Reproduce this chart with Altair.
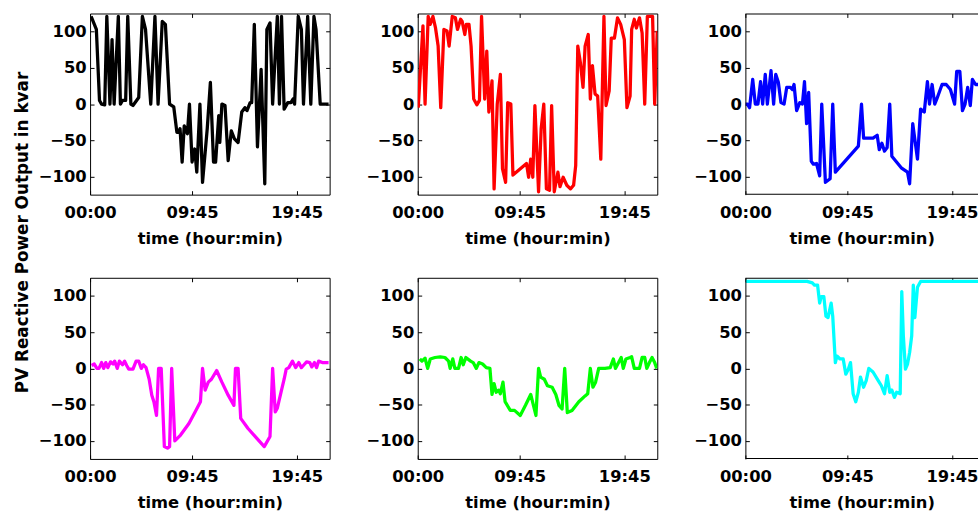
import altair as alt
import pandas as pd

# ---------------- data (hours of day, kvar) ----------------
black_t = [0.1, 0.6, 0.9, 1.1, 1.4, 1.6, 1.9, 2.1, 2.3, 2.7, 2.9, 3.1, 3.4, 3.6, 3.9, 4.1, 4.65, 5.0, 5.3, 5.8,
           6.2, 6.5, 6.9, 7.2, 7.6, 8.0, 8.3, 8.45, 8.6, 8.8, 9.0, 9.3, 9.5, 9.75, 10.0, 10.2, 10.5, 10.75, 11.2, 11.5,
           11.8, 12.0, 12.3, 12.4, 12.6, 12.9, 13.2, 13.5, 13.8, 14.15, 14.5, 14.8, 15.0, 15.3, 15.45, 15.7, 16.0,
           16.35, 16.7, 16.9, 17.2, 17.45, 17.9, 18.1, 18.3, 18.55, 18.9, 19.2, 19.4, 19.55, 19.9, 20.2, 20.4, 20.8,
           21.1, 21.4, 21.6, 22.0, 22.8]
black_v = [121, 103, 5, 0, -1, 121, 0, 89, 0, 121, 0, 5, 5, 121, 0, -2, 9, 121, 103, 0,
           121, 0, 114, 110, 0, -4, -39, -39, -34, -80, -30, -41, 0, -80, -62, -94, 0, -108, -34, 30,
           -80, -80, -16, -53, 0, -2, -78, -37, -48, -53, -11, -5, -9, 2, 2, 110, -59,
           48, -110, 103, 112, 0, 121, 0, 121, -7, 2, 2, 7, 0, 121, 103, 0, 121,
           0, 121, 103, 0, 0]

red_t = [0.05, 0.5, 0.7, 1.0, 1.2, 1.45, 1.7, 1.95, 2.2, 2.5, 2.8, 3.0, 3.3, 3.6, 3.8, 4.1, 4.25, 4.5, 4.65, 4.9,
         5.1, 5.35, 5.65, 5.9, 6.1, 6.4, 6.6, 6.8, 7.1, 7.3, 7.6, 7.9, 8.1, 8.4, 8.6, 8.9, 9.1, 10.4, 10.6, 10.8,
         11.0, 11.2, 11.55, 11.8, 12.05, 12.3, 12.6, 12.8, 13.05, 13.4, 13.6, 13.9, 14.25, 14.6, 14.9, 15.1, 15.3,
         15.55, 15.8, 16.0, 16.3, 16.5, 16.7, 16.95, 17.2, 17.5, 17.8, 18.0, 18.3, 18.5, 18.8, 19.1, 19.4, 19.75,
         20.0, 20.3, 20.45, 20.7, 20.9, 21.2, 21.45, 21.7, 21.95, 22.3, 22.45, 22.65, 22.9]
red_v = [-5, 108, 0, 121, 110, 121, 105, 80, -5, 103, 101, 80, 121, 119, 103, 117, 114, 96, 110, 110,
         80, 7, -1, 5, 121, 7, 73, -11, 32, -117, 0, 41, -89, -108, 2, 0, -98, -82, -101, -76,
         -101, -2, -121, -34, 0, -117, -119, -2, -121, -94, -114, -101, -112, -117, -112, -85, 80,
         57, 23, 80, 96, 7, 53, 14, 11, -76, 121, -2, 18, 91, 91, 119, 110, 89,
         -5, 11, 103, 117, 105, 119, 98, 0, 121, 121, 121, 0, 101]

blue_t = [0.0, 0.2, 0.4, 0.7, 0.95, 1.2, 1.45, 1.65, 1.9, 2.1, 2.45, 2.7, 2.9, 3.15, 3.4, 3.7, 3.95, 4.3, 4.5, 4.65,
          4.9, 5.2, 5.45, 5.65, 5.85, 6.05, 6.3, 6.5, 6.8, 7.1, 7.3, 7.65, 8.1, 8.35, 8.6, 10.8, 11.1, 11.3, 12.2,
          12.6, 12.8, 13.05, 13.3, 13.55, 13.8, 14.0, 14.9, 15.5, 15.7, 16.0, 16.45, 16.75, 17.1, 17.4, 17.6, 17.85,
          18.1, 18.3, 18.8, 19.2, 19.6, 20.0, 20.2, 20.5, 20.75, 21.0, 21.25, 21.5, 21.7, 22.0, 22.25, 22.9]
blue_v = [0, 0, -5, 34, 0, 0, 31, 0, 41, 0, 46, 0, 41, 30, 2, 0, 23, 23, 20, 27,
          -9, 2, 0, 31, -27, 16, -79, -83, -82, -99, 0, -108, -103, 0, -94, -58, 0, -47, -47,
          -43, -63, -54, -65, -60, 0, -72, -88, -94, -110, -27, -76, -7, -11, 31, 0, 27,
          0, 7, 27, 27, 20, 0, 45, 45, -9, 0, 23, -2, 34, 27, 27, 22]

magenta_t = [0.15, 0.4, 0.65, 0.85, 1.1, 1.3, 1.5, 1.7, 1.95, 2.2, 2.35, 2.6, 2.8, 3.1, 3.3, 3.5, 3.7, 4.1, 4.4,
             4.65, 4.9, 5.1, 5.35, 5.65, 5.9, 6.1, 6.35, 6.55, 6.8, 7.1, 7.4, 7.6, 7.8, 8.1, 8.65, 9.45, 10.05,
             10.55, 10.75, 11.0, 11.3, 11.6, 12.1, 12.6, 13.2, 13.75, 13.9, 14.15, 14.4, 15.1, 15.9, 16.65, 17.2,
             17.45, 17.7, 17.9, 18.25, 18.55, 18.75, 19.0, 19.35, 19.65, 19.95, 20.2, 20.45, 20.7, 21.0, 21.2,
             21.45, 21.65, 21.85, 22.2, 22.8]
magenta_v = [4, 6, 0, 0, 8, 0, 8, 1, 9, 6, 10, 0, 10, 5, 10, 4, -1, -1, 10,
             10, 0, 5, 1, -15, -37, -46, -65, 0, 0, -108, -110, -108, 0, -100, -92, -76, -60,
             -46, 0, -30, -19, -15, -3, -19, -37, -51, 0, 0, -69, -83, -96, -108, -94,
             0, -60, -55, -33, -15, -1, 1, 10, 1, 8, 1, 5, 9, 8, 2,
             8, 1, 10, 8, 8]

green_t = [0.2, 0.4, 0.7, 0.95, 1.2, 1.65, 2.15, 2.6, 2.95, 3.1, 3.35, 3.55, 3.9, 4.15, 4.35, 4.6, 5.05, 5.3, 5.6,
           5.85, 6.2, 6.55, 6.9, 7.1, 7.3, 7.5, 7.75, 7.9, 8.15, 8.35, 8.85, 9.25, 9.8, 10.3, 10.8, 11.3, 11.55,
           11.75, 12.1, 12.4, 12.85, 13.2, 13.5, 13.8, 14.05, 14.3, 14.75, 15.4, 16.0, 16.25, 16.5, 16.75, 17.0,
           17.3, 17.9, 18.4, 18.7, 18.9, 19.2, 19.45, 19.65, 19.9, 20.3, 20.45, 20.7, 21.2, 21.45, 21.7, 21.9,
           22.15, 22.4, 22.65, 22.85]
green_v = [13, 10, 14, 0, 13, 15, 16, 15, 10, 0, 13, 0, 0, 15, 5, 15, 10, 8, 0,
           8, 6, 1, 0, -36, -21, -33, -30, -35, -19, -46, -58, -58, -65, -51, -36, -65, 0,
           -12, -15, -24, -26, -36, -51, -56, 0, -61, -58, -46, -38, -35, 0, -26, -19,
           0, 0, 1, 13, 0, 8, 15, 0, 13, 15, 16, 0, 0, 15, 15, 0,
           8, 15, 8, 0]

cyan_t = [0.0, 5.9, 6.4, 6.6, 6.9, 7.1, 7.25, 7.5, 7.7, 7.9, 8.2, 8.35, 8.6, 8.75, 9.05, 9.35, 9.6, 9.85, 10.05,
          10.3, 10.55, 10.8, 11.0, 11.3, 11.55, 11.8, 12.2, 12.7, 13.0, 13.3, 13.55, 13.8, 14.0, 14.25, 14.45,
          14.8, 14.95, 15.1, 15.3, 15.5, 15.7, 15.9, 16.05, 16.2, 16.45, 16.75, 22.9]
cyan_v = [120, 120, 118, 115, 115, 90, 99, 99, 72, 70, 90, 72, 8, 17, 13, 13, -8, -1, 8,
          -35, -46, -33, -12, -26, -17, 0, -5, -17, -24, -35, -10, -33, -30, -40, -33,
          -35, 106, 45, -1, 6, 22, 45, 115, 70, 112, 120, 120]

x_tick_hours = [0, 9.75, 19.75]
y_tick_values = [-100, -50, 0, 50, 100]
x_end = 22.9
y_domain = [-125, 125]

FONT = "DejaVu Sans"
FS = 16.5
PW, PH = 242, 183          # plot area of a full panel
PX_PER_H = PW / x_end
W3 = 235                   # last column is cut by the page edge in the reference

hhmm = ("(floor(datum.value) < 10 ? '0' : '') + floor(datum.value) + ':' + "
        "(round(datum.value * 60) % 60 < 10 ? '0' : '') + (round(datum.value * 60) % 60)")

ys = alt.Scale(domain=y_domain, nice=False, zero=False)


def panel(t, v, color, width=PW, cut=False):
    x_max = width / PX_PER_H
    xs = alt.Scale(domain=[0, x_max], nice=False, zero=False)
    df = pd.DataFrame({"t": t, "v": v})
    base = alt.Chart(df)
    main = base.mark_line(color=color, strokeWidth=3.3, strokeJoin="round", clip=True).encode(
        x=alt.X("t:Q", scale=xs, axis=alt.Axis(
            orient="bottom", values=x_tick_hours, labelExpr=hhmm, title="time (hour:min)",
            offset=-4, tickSize=4, domain=False, labelPadding=10, titlePadding=10, labelFlush=False)),
        y=alt.Y("v:Q", scale=ys, axis=alt.Axis(
            orient="left", values=y_tick_values, title=None,
            offset=-4, tickSize=4, domain=False, labelPadding=4)),
    )
    if cut:
        ticks = base.mark_line(opacity=0, clip=True).encode(
            x=alt.X("t:Q", scale=xs, axis=alt.Axis(
                orient="top", values=x_tick_hours, labels=False, title=None,
                offset=-4, tickSize=4, domain=False)),
            y=alt.Y("v:Q", scale=ys, axis=None),
        )
        frame_df = pd.DataFrame({"x0": [0], "x1": [x_end + 1], "y0": [y_domain[0]], "y1": [y_domain[1]]})
        frame = alt.Chart(frame_df).mark_rect(
            fillOpacity=0, stroke="black", strokeWidth=2, clip=True).encode(
            x=alt.X("x0:Q", scale=xs, axis=None), x2="x1:Q",
            y=alt.Y("y0:Q", scale=ys, axis=None), y2="y1:Q",
        )
        layers = [main, ticks, frame]
    else:
        ticks = base.mark_line(opacity=0, clip=True).encode(
            x=alt.X("t:Q", scale=xs, axis=alt.Axis(
                orient="top", values=x_tick_hours, labels=False, title=None,
                offset=-4, tickSize=4, domain=False)),
            y=alt.Y("v:Q", scale=ys, axis=alt.Axis(
                orient="right", values=y_tick_values, labels=False, title=None,
                offset=-4, tickSize=4, domain=False)),
        )
        layers = [main, ticks]
    ch = alt.layer(*layers).resolve_axis(x="independent", y="independent")
    if cut:
        ch = ch.properties(width=width, height=PH, view=alt.ViewBackground(stroke="transparent"))
    else:
        ch = ch.properties(width=width, height=PH)
    return ch


row1 = alt.hconcat(
    panel(black_t, black_v, "#000000"),
    panel(red_t, red_v, "#ff0000"),
    panel(blue_t, blue_v, "#0000ff", width=W3, cut=True),
    spacing=35)
row2 = alt.hconcat(
    panel(magenta_t, magenta_v, "#ff00ff"),
    panel(green_t, green_v, "#00ff00"),
    panel(cyan_t, cyan_v, "#00ffff", width=W3, cut=True),
    spacing=35)

chart = alt.vconcat(row1, row2, spacing=29).properties(
    title=alt.TitleParams(
        "PV Reactive Power Output in kvar", orient="left", anchor="middle",
        font=FONT, fontSize=17, fontWeight="bold", color="black", offset=6, dx=30),
    padding={"left": 14, "top": 10, "right": 0, "bottom": 0},
).configure_axis(
    labelFont=FONT, labelFontSize=FS, labelFontWeight="bold", labelColor="black",
    titleFont=FONT, titleFontSize=FS, titleFontWeight="bold", titleColor="black",
    tickColor="black", tickWidth=1, grid=False,
).configure_view(stroke="black", strokeWidth=1)

chart.save("out.html", embed_options={"renderer": "svg", "actions": False})
